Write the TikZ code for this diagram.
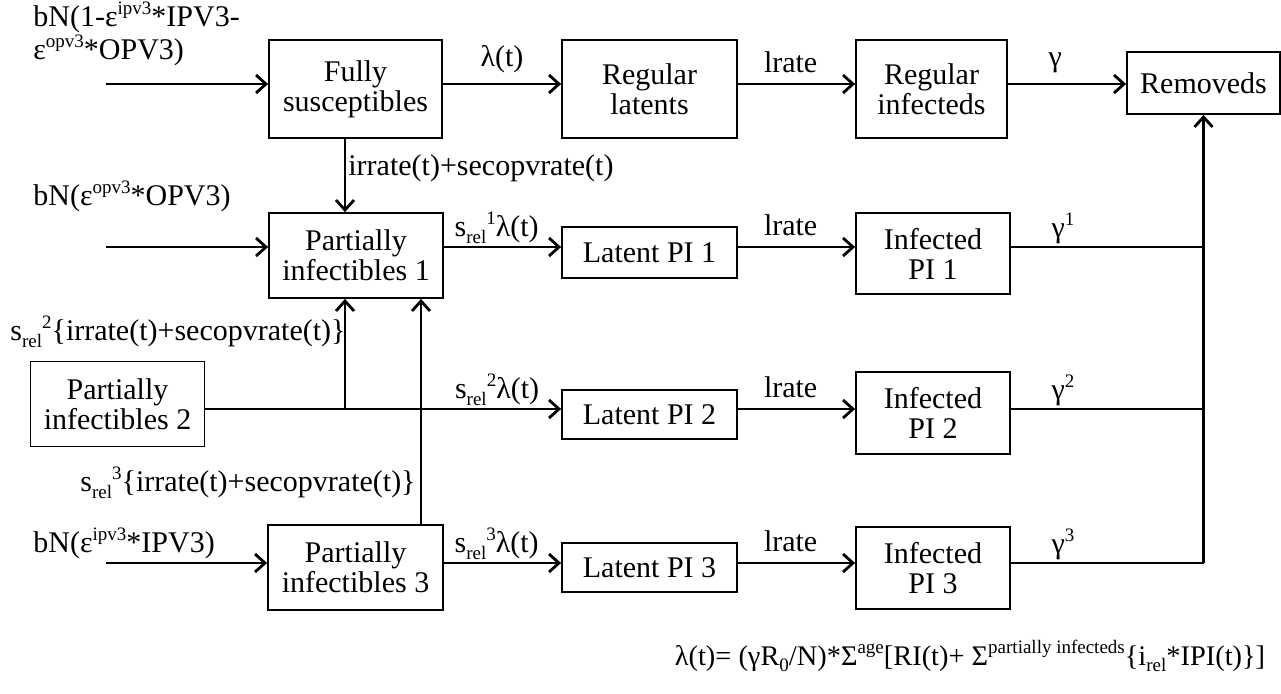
\documentclass[tikz,border=0pt]{standalone}
\usepackage{fontspec}
\setmainfont{Liberation Serif}
\usetikzlibrary{arrows.meta}
\newcommand\sups[1]{\raisebox{0.4em}{\fontsize{9.5}{9.5}\selectfont #1}}
\newcommand\subs[1]{\raisebox{-0.22em}{\fontsize{9.5}{9.5}\selectfont #1}}

\begin{document}
\begin{tikzpicture}
[x=0.5pt,y=-0.5pt,%
  box/.style={shape=rectangle,draw,line width=0.9pt,align=center,inner sep=0pt},%
  lbl/.style={inner sep=0pt},%
  flow/.style={-{Straight Barb[length=5pt,width=9pt]},line width=1.4pt},%
  link/.style={line width=1pt}]
\fontsize{15}{15}\selectfont
\useasboundingbox (0,0) rectangle (1281,693);
% boxes
\node[box,minimum width=86.5pt,minimum height=49pt] (fs) at (355.5,89) {Fully\\susceptibles};
\node[box,minimum width=87.5pt,minimum height=49pt] (rl) at (649.5,89) {Regular\\latents};
\node[box,minimum width=75.5pt,minimum height=49pt] (ri) at (931.5,89) {Regular\\infecteds};
\node[box,minimum width=76.5pt,minimum height=31pt] (rem) at (1203.5,83) {Removeds};
\node[box,minimum width=87pt,minimum height=42.5pt] (p1) at (356,255.5) {Partially\\infectibles 1};
\node[box,minimum width=87pt,minimum height=42.5pt] (p2) at (117.5,404) {Partially\\infectibles 2};
\node[box,minimum width=87.5pt,minimum height=42.5pt] (p3) at (355.5,567.5) {Partially\\infectibles 3};
\node[box,minimum width=87.5pt,minimum height=25.5pt] (lp1) at (649.5,252.5) {Latent PI 1};
\node[box,minimum width=87.5pt,minimum height=24.5pt] (lp2) at (649.5,414.5) {Latent PI 2};
\node[box,minimum width=87.5pt,minimum height=24.5pt] (lp3) at (649.5,567.5) {Latent PI 3};
\node[box,minimum width=77pt,minimum height=40.5pt] (ip1) at (933,253.5) {Infected\\PI 1};
\node[box,minimum width=77pt,minimum height=41pt] (ip2) at (933,413) {Infected\\PI 2};
\node[box,minimum width=77pt,minimum height=41pt] (ip3) at (933,568) {Infected\\PI 3};
% free ends and junctions
\coordinate (in0) at (106,84);
\coordinate (in1) at (106,247);
\coordinate (in3) at (106,563);
\coordinate (j2) at (345,409);
\coordinate (k3) at (421,409);
% inflow labels
\node[lbl,anchor=west,align=left] (tin0) at (33,34) {bN(1-ε\sups{ipv3}*IPV3-\\ε\sups{opv3}*OPV3)};
\node[lbl,anchor=west] (tin1) at (33,196) {bN(ε\sups{opv3}*OPV3)};
\node[lbl,anchor=west] (tin3) at (33,543) {bN(ε\sups{ipv3}*IPV3)};
\node[lbl,anchor=west] (tir) at (348,168) {irrate(t)+secopvrate(t)};
\node[lbl,anchor=west] (tir2) at (10,332) {s\subs{rel}\sups{2}\{irrate(t)+secopvrate(t)\}};
\node[lbl,anchor=east] (tir3) at (416,483) {s\subs{rel}\sups{3}\{irrate(t)+secopvrate(t)\}};
% regular chain
\draw[flow] (in0) -- (in0 -| fs.west);
\draw[flow] (in0 -| fs.east) -- node[lbl,above=5pt] (lam0) {λ(t)} (in0 -| rl.west);
\draw[flow] (in0 -| rl.east) -- node[lbl,above=5pt,pos=0.45] (lr0) {lrate} (in0 -| ri.west);
\draw[flow] (in0 -| ri.east) -- node[lbl,above=5pt,pos=0.4] (g0) {γ} (in0 -| rem.west);
\draw[flow] (fs.south -| j2) -- (p1.north -| j2);
% partially infectibles 1
\draw[flow] (in1) -- (in1 -| p1.west);
\draw[flow] (in1 -| p1.east) -- node[lbl,above=1pt,pos=0.45] (lam1) {s\subs{rel}\sups{1}λ(t)} (in1 -| lp1.west);
\draw[flow] (in1 -| lp1.east) -- node[lbl,above=5pt,pos=0.45] (lr1) {lrate} (in1 -| ip1.west);
\draw[link] (in1 -| ip1.east) -- node[lbl,above=1pt,pos=0.27] (g1) {γ\sups{1}} (in1 -| rem.south);
% partially infectibles 2
\draw[flow] (j2 -| p2.east) -- node[lbl,above=1pt,pos=0.82] (lam2) {s\subs{rel}\sups{2}λ(t)} (j2 -| lp2.west);
\draw[flow] (j2) -- (j2 |- p1.south);
\draw[flow] (j2 -| lp2.east) -- node[lbl,above=5pt,pos=0.45] (lr2) {lrate} (j2 -| ip2.west);
\draw[link] (j2 -| ip2.east) -- node[lbl,above=1pt,pos=0.27] (g2) {γ\sups{2}} (j2 -| rem.south);
% partially infectibles 3
\draw[flow] (in3) -- (in3 -| p3.west);
\draw[flow] (p3.north -| k3) -- (p1.south -| k3);
\draw[flow] (in3 -| p3.east) -- node[lbl,above=1pt,pos=0.45] (lam3) {s\subs{rel}\sups{3}λ(t)} (in3 -| lp3.west);
\draw[flow] (in3 -| lp3.east) -- node[lbl,above=5pt,pos=0.45] (lr3) {lrate} (in3 -| ip3.west);
\draw[link] (in3 -| ip3.east) -- node[lbl,above=1pt,pos=0.27] (g3) {γ\sups{3}} (in3 -| rem.south);
\draw[flow] (in3 -| rem.south) -- (rem.south);
% force of infection
\node[lbl,font=\fontsize{14.2}{14.2}\selectfont] (foi) at (970,656) {λ(t)= (γR\subs{0}/N)*Σ\sups{age}[RI(t)+ Σ\sups{partially infecteds}\{i\subs{rel}*IPI(t)\}]};
\end{tikzpicture}
\end{document}
